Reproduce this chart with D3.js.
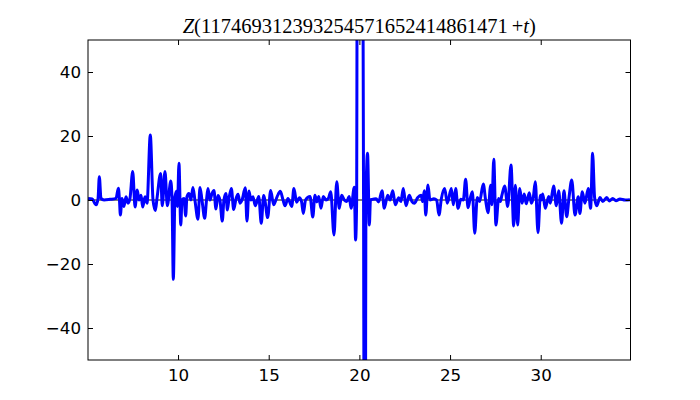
<!DOCTYPE html>
<html><head><meta charset="utf-8">
<script src="https://cdn.jsdelivr.net/npm/d3@7"></script>
<style>body{margin:0;background:#fff}</style>
</head><body>
<svg id="c" width="700" height="400"></svg>
<script>
const tValues = [5.04,5.26,5.48,5.59,5.66,5.75,5.92,6.25,6.58,6.71,6.77,6.82,6.91,7.02,7.13,7.24,7.35,7.50,7.63,7.75,7.85,7.96,8.05,8.18,8.29,8.47,8.62,8.75,8.84,9.04,9.13,9.28,9.41,9.60,9.67,9.74,9.83,9.93,9.97,10.05,10.15,10.22,10.33,10.42,10.49,10.60,10.71,10.82,10.93,11.10,11.21,11.32,11.47,11.57,11.65,11.76,11.87,11.98,12.09,12.20,12.31,12.44,12.53,12.64,12.72,12.81,12.94,13.07,13.20,13.31,13.42,13.53,13.71,13.80,13.91,14.02,14.13,14.26,14.45,14.59,14.72,14.79,14.94,15.11,15.27,15.46,15.64,15.79,15.90,16.06,16.27,16.39,16.54,16.69,16.81,16.91,17.03,17.28,17.43,17.55,17.65,17.76,17.88,18.01,18.16,18.29,18.42,18.60,18.75,18.89,19.02,19.17,19.30,19.44,19.54,19.72,19.79,19.85,19.87,20.03,20.20,20.23,20.25,20.30,20.34,20.36,20.45,20.55,20.61,20.70,20.92,21.06,21.25,21.37,21.56,21.69,21.84,21.98,22.17,22.29,22.42,22.57,22.75,22.90,23.03,23.21,23.40,23.49,23.58,23.66,23.78,23.89,24.11,24.26,24.39,24.52,24.70,24.85,25.07,25.18,25.31,25.44,25.59,25.73,25.86,25.99,26.10,26.23,26.36,26.50,26.63,26.83,26.96,27.09,27.24,27.31,27.41,27.53,27.68,27.77,27.86,28.01,28.18,28.36,28.51,28.60,28.73,28.84,28.97,29.09,29.20,29.37,29.48,29.59,29.70,29.85,29.98,30.03,30.11,30.25,30.44,30.53,30.71,30.86,30.99,31.15,31.28,31.43,31.56,31.71,31.89,32.07,32.16,32.29,32.44,32.62,32.75,32.86,32.97,33.09,33.27,33.42,33.64,33.78,33.97,34.15,34.37,34.65,34.92];
const zValues = [0.5,0.3,-1.5,0.5,7.3,0.5,0,0.2,0.5,3.7,0,-4.7,0.5,-2,1,-1,0.5,8.9,-2.2,3.1,0,1.5,-2.2,1,-1,20.3,0,-3.3,0.5,8.3,-1.8,8.9,-1.8,5.9,0,-24.8,1,2.8,-2,11.5,-7.8,0,0.5,-5,1,2,0,3.9,0,-6,3.9,0,-5.7,0,3.6,0,2,3,-2.8,1.4,0,-6.6,0,2,-3.1,0.5,3.6,-3,0.5,1.8,-1,0,3.8,-6.6,2.8,0,1,-1.8,1.1,-7.3,1.4,0,-5.5,3,-1.5,1,2.7,0,-1.8,0.5,-2,3.6,-0.7,0.7,-0.5,-4.2,0,1.1,-5.3,1.5,-0.6,1.1,-2.6,1.1,0,0.5,2.6,-10.9,5.7,-2.6,1.5,0,-0.5,1.1,-2.6,4,-12.5,0,60,250,60,0,-60,-200,-60,0,14.6,-7.8,0,0.2,0.4,-0.6,2.9,-2.6,1.5,0,2.9,-1.5,0.7,-0.5,3.6,-1.8,1.5,-0.5,-1,0.7,1.5,-0.5,2.9,-4.7,4.7,0,0.4,0,-4.7,0.4,3.6,-1,3.6,-1.5,3.6,-2.6,0.2,0,6.5,-2.4,0.2,2.6,-10.4,0.8,-0.5,5,0,-4,4.6,-1.5,12.7,-7.8,0.5,-0.5,1.5,4.4,-2,10.9,-8.1,4.6,-7.8,3.6,-1,1.9,-1.2,2.3,-1,0.8,5.7,-10.2,1.5,0,1.9,-2.6,1.1,-1,4.4,-1.8,2.9,-7.3,2.9,-5.2,0.8,6.25,-4.7,1,-4.2,2.6,-1,3.6,-2.6,14.6,0.8,-1.8,0.8,-0.5,0.8,-0.3,0.5,-0.2,0.3,0,0.1];
const xTicks = [10, 15, 20, 25, 30];
const yTicks = [-40, -20, 0, 20, 40];
const xDomain = [5.035, 34.95];
const yDomain = [-50, 50];

const data = tValues.map((t, i) => ({t, z: zValues[i]}));
const svg = d3.select("#c");
const L = 88, R = 630.5, T = 40, B = 360;
const x = d3.scaleLinear().domain(xDomain).range([L, R]);
const y = d3.scaleLinear().domain(yDomain).range([B, T]);

svg.append("defs").append("clipPath").attr("id", "clip")
  .append("rect").attr("x", L).attr("y", T).attr("width", R - L).attr("height", B - T);

// zero line
svg.append("line").attr("x1", L).attr("x2", R).attr("y1", y(0)).attr("y2", y(0))
  .attr("stroke", "#000").attr("stroke-width", 1);

svg.append("path").datum(data)
  .attr("clip-path", "url(#clip)")
  .attr("fill", "none").attr("stroke", "#0000ff").attr("stroke-width", 3)
  .attr("stroke-linejoin", "round")
  .attr("d", d3.line().x(d => x(d.t)).y(d => y(d.z)).curve(d3.curveMonotoneX));

const fmt = d => (d < 0 ? "\u2212" + Math.abs(d) : String(d));
const font = "'DejaVu Sans', sans-serif";
const tl = 5;
// axes
const gB = svg.append("g").attr("transform", `translate(0,${B})`)
  .call(d3.axisBottom(x).tickValues(xTicks).tickSize(-tl).tickPadding(9).tickFormat(fmt));
const gT = svg.append("g").attr("transform", `translate(0,${T})`)
  .call(d3.axisTop(x).tickValues(xTicks).tickSize(-tl).tickFormat(""));
const gL = svg.append("g").attr("transform", `translate(${L},0)`)
  .call(d3.axisLeft(y).tickValues(yTicks).tickSize(-tl).tickPadding(7).tickFormat(fmt));
const gR = svg.append("g").attr("transform", `translate(${R},0)`)
  .call(d3.axisRight(y).tickValues(yTicks).tickSize(-tl).tickFormat(""));
[gB, gT, gL, gR].forEach(g => {
  g.select(".domain").remove();
  g.selectAll(".tick line").attr("stroke", "#000").attr("stroke-width", 1);
  g.selectAll(".tick text").attr("fill", "#000").style("font-family", font).style("font-size", "16.7px");
});
gB.selectAll(".tick text").attr("dy", "0.71em");

svg.append("rect").attr("x", L).attr("y", T).attr("width", R - L).attr("height", B - T)
  .attr("fill", "none").attr("stroke", "#000").attr("stroke-width", 1);

const title = svg.append("text").attr("x", (L + R) / 2).attr("y", 33)
  .attr("text-anchor", "middle")
  .style("font-family", "'Liberation Serif', 'DejaVu Serif', serif").style("font-size", "20.5px");
title.append("tspan").style("font-style", "italic").text("Z");
title.append("tspan").text("(117469312393254571652414861471");
title.append("tspan").text("\u2009+");
title.append("tspan").style("font-style", "italic").text("t");
title.append("tspan").text(")");
</script>
</body></html>
